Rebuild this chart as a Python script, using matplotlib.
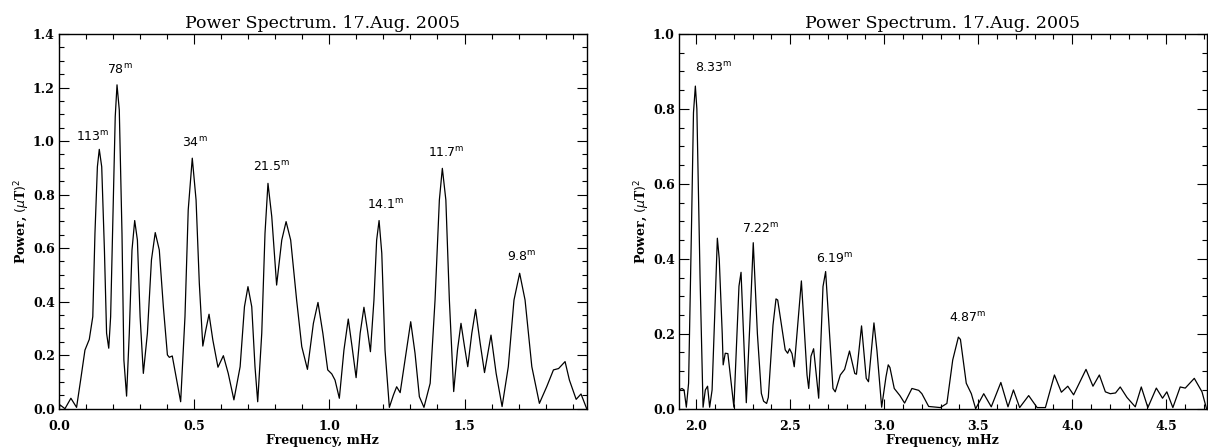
import matplotlib
matplotlib.use("Agg")
import matplotlib.pyplot as plt
from matplotlib.ticker import MultipleLocator

# left panel: 0 - 1.95 mHz
freq_lo = [0.0, 0.004, 0.022, 0.044, 0.065, 0.080, 0.096, 0.112, 0.125, 0.133, 0.142, 0.149, 0.158,
           0.168, 0.176, 0.184, 0.191, 0.201, 0.208, 0.2146, 0.223, 0.233, 0.240, 0.250, 0.260,
           0.270, 0.280, 0.290, 0.300, 0.312, 0.327, 0.342, 0.356, 0.371, 0.386, 0.401, 0.408,
           0.419, 0.433, 0.450, 0.466, 0.478, 0.493, 0.507, 0.519, 0.532, 0.543, 0.555, 0.569,
           0.588, 0.608, 0.626, 0.647, 0.670, 0.686, 0.699, 0.713, 0.725, 0.735, 0.750, 0.762,
           0.773, 0.787, 0.805, 0.824, 0.840, 0.857, 0.879, 0.898, 0.919, 0.941, 0.958, 0.976,
           0.994, 1.009, 1.021, 1.037, 1.054, 1.070, 1.084, 1.099, 1.114, 1.128, 1.141, 1.152,
           1.165, 1.175, 1.184, 1.194, 1.206, 1.222, 1.237, 1.249, 1.262, 1.280, 1.301, 1.317,
           1.333, 1.350, 1.373, 1.391, 1.407, 1.418, 1.431, 1.444, 1.460, 1.474, 1.487, 1.500,
           1.512, 1.527, 1.541, 1.558, 1.574, 1.598, 1.617, 1.639, 1.662, 1.683, 1.704, 1.724,
           1.749, 1.777, 1.804, 1.829, 1.848, 1.872, 1.888, 1.913, 1.931, 1.952]
power_lo = [0.0, 0.014, 0.0, 0.039, 0.005, 0.107, 0.219, 0.259, 0.344, 0.655, 0.904, 0.969, 0.904,
            0.593, 0.282, 0.226, 0.344, 0.780, 1.091, 1.210, 1.116, 0.655, 0.182, 0.047, 0.282,
            0.593, 0.703, 0.630, 0.344, 0.132, 0.282, 0.556, 0.658, 0.593, 0.381, 0.201, 0.192,
            0.197, 0.120, 0.026, 0.344, 0.743, 0.936, 0.780, 0.469, 0.234, 0.294, 0.353, 0.257,
            0.155, 0.198, 0.132, 0.033, 0.157, 0.381, 0.456, 0.381, 0.157, 0.026, 0.282, 0.655,
            0.842, 0.718, 0.462, 0.630, 0.699, 0.630, 0.406, 0.232, 0.147, 0.319, 0.397, 0.282,
            0.145, 0.130, 0.107, 0.039, 0.219, 0.335, 0.232, 0.116, 0.282, 0.379, 0.294, 0.213,
            0.406, 0.630, 0.703, 0.581, 0.219, 0.005, 0.051, 0.082, 0.060, 0.182, 0.325, 0.207,
            0.045, 0.005, 0.095, 0.406, 0.780, 0.898, 0.780, 0.406, 0.064, 0.219, 0.319, 0.232,
            0.157, 0.282, 0.371, 0.244, 0.135, 0.275, 0.132, 0.008, 0.157, 0.406, 0.506, 0.406,
            0.157, 0.020, 0.082, 0.145, 0.150, 0.176, 0.107, 0.035, 0.055, 0.0]

# right panel: 1.9 - 4.7 mHz
freq_hi = [1.908, 1.924, 1.935, 1.947, 1.959, 1.975, 1.985, 1.995, 2.003, 2.020, 2.036, 2.048, 2.060,
           2.071, 2.084, 2.098, 2.112, 2.122, 2.138, 2.143, 2.154, 2.168, 2.200, 2.227, 2.238,
           2.266, 2.287, 2.303, 2.325, 2.346, 2.358, 2.374, 2.383, 2.408, 2.424, 2.433, 2.473,
           2.486, 2.496, 2.509, 2.521, 2.559, 2.589, 2.598, 2.610, 2.624, 2.651, 2.674, 2.688,
           2.727, 2.739, 2.766, 2.789, 2.815, 2.843, 2.852, 2.879, 2.904, 2.916, 2.945, 2.961,
           2.986, 3.009, 3.021, 3.030, 3.053, 3.083, 3.108, 3.147, 3.183, 3.200, 3.236, 3.298,
           3.333, 3.364, 3.394, 3.405, 3.436, 3.463, 3.486, 3.529, 3.569, 3.620, 3.658, 3.687,
           3.720, 3.768, 3.813, 3.857, 3.905, 3.942, 3.976, 4.007, 4.073, 4.110, 4.144, 4.176,
           4.202, 4.230, 4.255, 4.291, 4.335, 4.367, 4.402, 4.447, 4.480, 4.503, 4.535, 4.574,
           4.601, 4.649, 4.690, 4.714]
power_hi = [0.050, 0.054, 0.050, 0.004, 0.068, 0.500, 0.790, 0.861, 0.800, 0.350, 0.004, 0.050, 0.060,
            0.004, 0.050, 0.250, 0.455, 0.400, 0.200, 0.117, 0.148, 0.147, 0.004, 0.327, 0.364,
            0.016, 0.250, 0.443, 0.200, 0.041, 0.020, 0.014, 0.030, 0.223, 0.293, 0.290, 0.157,
            0.148, 0.160, 0.147, 0.112, 0.341, 0.090, 0.054, 0.140, 0.160, 0.028, 0.326, 0.366,
            0.054, 0.045, 0.090, 0.105, 0.154, 0.094, 0.092, 0.221, 0.081, 0.072, 0.229, 0.155,
            0.004, 0.085, 0.117, 0.110, 0.054, 0.035, 0.015, 0.054, 0.049, 0.040, 0.006, 0.003,
            0.014, 0.130, 0.191, 0.185, 0.068, 0.040, 0.000, 0.040, 0.005, 0.070, 0.005, 0.050,
            0.003, 0.035, 0.003, 0.003, 0.090, 0.044, 0.060, 0.037, 0.105, 0.060, 0.090, 0.045,
            0.040, 0.042, 0.058, 0.030, 0.005, 0.058, 0.003, 0.055, 0.028, 0.045, 0.003, 0.058,
            0.055, 0.081, 0.045, 0.000]

# period labels (minutes) and where they sit
labels_lo = ["113", "78", "34", "21.5", "14.1", "11.7", "9.8"]
label_x_lo = [0.125, 0.226, 0.504, 0.787, 1.209, 1.431, 1.712]
label_y_lo = [1.016, 1.266, 0.994, 0.904, 0.761, 0.954, 0.566]
labels_hi = ["8.33", "7.22", "6.19", "4.87"]
label_x_hi = [2.092, 2.343, 2.735, 3.445]
label_y_hi = [0.910, 0.479, 0.399, 0.241]

title = "Power Spectrum. 17.Aug. 2005"

fig = plt.figure(figsize=(12.08, 4.48), dpi=100)
ax1 = fig.add_axes([59 / 1208, 39.3 / 448, 527.7 / 1208, 374.7 / 448])
ax2 = fig.add_axes([679 / 1208, 39.3 / 448, 527.7 / 1208, 374.7 / 448])


def style_axes(ax, xlim, ylim, ymaj):
    ax.set_xlim(*xlim)
    ax.set_ylim(*ylim)
    ax.xaxis.set_major_locator(MultipleLocator(0.5))
    ax.xaxis.set_minor_locator(MultipleLocator(0.1))
    ax.yaxis.set_major_locator(MultipleLocator(ymaj))
    ax.yaxis.set_minor_locator(MultipleLocator(ymaj / 4))
    ax.xaxis.set_major_formatter(plt.FormatStrFormatter("%.1f"))
    ax.yaxis.set_major_formatter(plt.FormatStrFormatter("%.1f"))
    ax.tick_params(which="both", direction="in", top=True, right=True, width=0.8)
    ax.tick_params(which="major", length=7)
    ax.tick_params(which="minor", length=3.5)
    ax.tick_params(axis="x", pad=8)
    ax.tick_params(axis="y", pad=3)
    for lab in ax.get_xticklabels() + ax.get_yticklabels():
        lab.set_fontfamily("DejaVu Serif")
        lab.set_fontweight("bold")
        lab.set_fontsize(9)
    for s in ax.spines.values():
        s.set_linewidth(1.0)
    ax.set_title(title, fontfamily="DejaVu Serif", fontsize=12.5, pad=4)
    ax.set_xlabel("Frequency, mHz", fontfamily="DejaVu Serif", fontweight="bold",
                  fontsize=9, labelpad=1)
    ax.set_ylabel(r"Power, $(\mu$T$)^2$", fontfamily="DejaVu Serif", fontweight="bold",
                  fontsize=9)
    ax.yaxis.set_label_coords(-0.052, 0.5)


ax1.plot(freq_lo, power_lo, color="black", linewidth=0.9)
style_axes(ax1, (0.0, 1.952), (0.0, 1.4), 0.2)
for t, x, y in zip(labels_lo, label_x_lo, label_y_lo):
    ax1.text(x, y, t + r"$^{\mathrm{m}}$", ha="center", va="center", fontsize=9)

ax2.plot(freq_hi, power_hi, color="black", linewidth=0.9)
style_axes(ax2, (1.908, 4.715), (0.0, 1.0), 0.2)
for t, x, y in zip(labels_hi, label_x_hi, label_y_hi):
    ax2.text(x, y, t + r"$^{\mathrm{m}}$", ha="center", va="center", fontsize=9)

fig.savefig("out.png", dpi=100)
